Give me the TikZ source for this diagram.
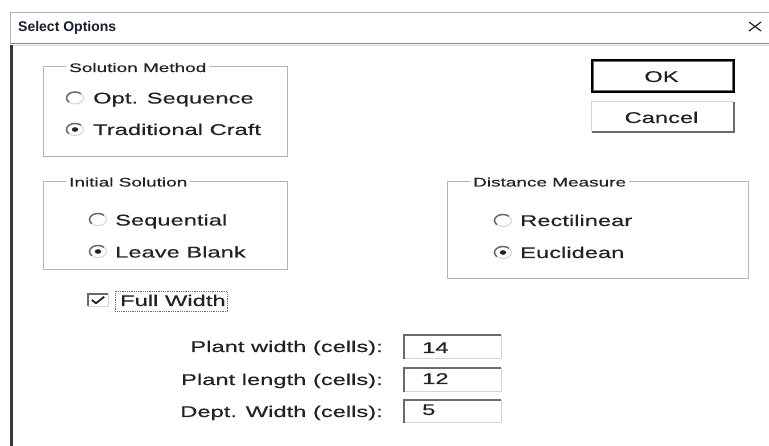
\documentclass[tikz,border=0pt]{standalone}
\usepackage{fontspec}
\newfontfamily\dlg[FakeStretch=1.53,FakeBold=0.3]{Liberation Sans}
\newfontfamily\ttlfont{Liberation Sans}

\definecolor{ink}{HTML}{222222}
\definecolor{titleink}{HTML}{1A1F2E}
\definecolor{etchgray}{HTML}{B4B4B4}
\definecolor{darkrim}{HTML}{6A6A6A}
\definecolor{literim}{HTML}{D4D4D4}
\definecolor{winframe}{HTML}{3A3A3A}

\begin{document}
\begin{tikzpicture}[x=1pt,y=-1pt,
  txt/.style={font=\dlg\fontsize{15.5}{18}\selectfont, text=ink, inner sep=0pt, anchor=base west},
  rtxt/.style={txt, anchor=base east},
  ctxt/.style={txt, anchor=base},
  grplabel/.style={font=\dlg\fontsize{12.4}{15}\selectfont, text=ink, fill=white,
    inner xsep=3pt, inner ysep=1pt, anchor=base west},
  grpbox/.style={draw=etchgray, line width=1pt},
  radiorim/.style={draw=literim, fill=white, line width=1pt},
  radioarc/.style={draw=darkrim, line width=1.5pt},
  radiodot/.style={fill=ink},
  sunkdark/.style={draw=darkrim, line width=1.8pt},
  sunklite/.style={draw=literim, line width=1pt},
  btnbox/.style={draw=none, fill=white, inner sep=0pt},
]
\useasboundingbox (0,0) rectangle (769,446);
\fill[white] (0,0) rectangle (769,446);

% window frame and title bar
\draw[draw=etchgray, line width=1pt] (10,13) -- (769,13);
\draw[draw=etchgray, line width=1pt] (10,13) -- (10,44);
\draw[draw=darkrim!80, line width=1pt] (10,43.5) -- (769,43.5);
\draw[draw=literim, line width=1pt] (10,45.5) -- (769,45.5);
\draw[draw=winframe, line width=3pt] (11.5,45) -- (11.5,446);
\node[font=\ttlfont\bfseries\fontsize{14}{16}\selectfont, text=titleink, inner sep=0pt,
  anchor=base west] (title) at (18,32) {Select Options};
\draw[draw=ink, line width=1.2pt] (749,22) -- (761,31) (749,31) -- (761,22);

% Solution Method group
\draw[grpbox] (43,67) rectangle (287,157);
\node[grplabel] (gsol) at (66,72) {Solution Method};
\coordinate (rOpt) at (75,98);
\coordinate (rCraft) at (75,129.5);
\node[txt] (tOpt) at (93,103.5) {Opt. Sequence};
\node[txt] (tCraft) at (93,135) {Traditional Craft};

% OK / Cancel buttons
\node[btnbox, minimum width=142pt, minimum height=32pt] (bOK) at (663,76) {};
\draw[draw=black, line width=1.6pt] (bOK.north west) rectangle (bOK.south east);
\draw[draw=darkrim, line width=1pt] ([shift={(1.8pt,-1.8pt)}]bOK.north west) rectangle ([shift={(-1.8pt,1.8pt)}]bOK.south east);
\node[ctxt] (tOK) at (661.5,82) {OK};
\node[btnbox, minimum width=142pt, minimum height=30pt] (bCancel) at (663,117) {};
\draw[draw=literim, line width=1pt] (bCancel.south west) -- (bCancel.north west) -- (bCancel.north east);
\draw[draw=darkrim, line width=2pt] (bCancel.north east) -- (bCancel.south east) -- (bCancel.south west);
\node[ctxt] (tCancel) at (661.5,123) {Cancel};

% Initial Solution group
\draw[grpbox] (43,182) rectangle (287,270);
\node[grplabel] (gini) at (66,186.5) {Initial Solution};
\coordinate (rSeq) at (98,219.5);
\coordinate (rBlank) at (98,251.5);
\node[txt] (tSeq) at (115,225.5) {Sequential};
\node[txt] (tBlank) at (115,257.5) {Leave Blank};

% Distance Measure group
\draw[grpbox] (447,182) rectangle (748,279);
\node[grplabel] (gdist) at (470,186.5) {Distance Measure};
\coordinate (rRect) at (503,220.5);
\coordinate (rEucl) at (503,252.5);
\node[txt] (tRect) at (520,226) {Rectilinear};
\node[txt] (tEucl) at (520,258) {Euclidean};

% radio buttons: light rim, darker upper-left half, dots on the chosen ones
\foreach \r in {rOpt,rCraft,rSeq,rBlank,rRect,rEucl}{
  \draw[radiorim] (\r) ellipse[x radius=8.5pt, y radius=6pt];
  \draw[radioarc] ([shift={(6pt,4.25pt)}]\r)
    arc[x radius=8.5pt, y radius=6pt, start angle=45, end angle=225];
}
\foreach \r in {rCraft,rBlank,rEucl}{
  \fill[radiodot] (\r) ellipse[x radius=3.2pt, y radius=2.3pt];
}

% Full Width check box
\node[draw=none, fill=white, minimum width=20pt, minimum height=12pt, inner sep=0pt] (cbox) at (98,300) {};
\draw[sunklite] (cbox.north east) -- (cbox.south east) -- (cbox.south west);
\draw[sunkdark] (cbox.south west) -- (cbox.north west) -- (cbox.north east);
\draw[draw=ink, line width=1.8pt] ([shift={(4pt,0pt)}]cbox.west) -- ([shift={(-2pt,3pt)}]cbox.south) -- ([shift={(-4pt,-3pt)}]cbox.north east);
\node[txt] (tFull) at (120,306) {Full Width};
\draw[draw=darkrim, densely dotted, line width=0.8pt] (115,291.5) rectangle (227,311);

% plant dimensions
\node[rtxt] (lWidth) at (383,352) {Plant width (cells):};
\node[rtxt] (lLength) at (383,385) {Plant length (cells):};
\node[rtxt] (lDept) at (383,417) {Dept. Width (cells):};
\foreach \n/\ya/\yb/\v/\yv in {fWidth/335/359/14/353, fLength/368/392/12/384, fDept/400/423/5/415}{
  \draw[sunklite] (501,\ya) -- (501,\yb) -- (404,\yb);
  \draw[sunkdark] (404,\yb) -- (404,\ya) -- (501,\ya);
  \node[txt] (\n) at (422,\yv) {\v};
}
\end{tikzpicture}
\end{document}
